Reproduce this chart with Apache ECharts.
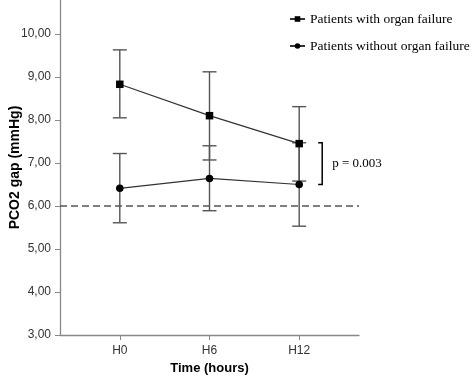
<!DOCTYPE html>
<html>
<head>
<meta charset="utf-8">
<script src="https://cdn.jsdelivr.net/npm/echarts@6/dist/echarts.min.js"></script>
<style>html,body{margin:0;padding:0;background:#fff}#chart{width:473px;height:382px}</style>
</head>
<body>
<div id="chart"></div>
<script>
const hours = [0, 6, 12];
const hourLabels = { 0: 'H0', 6: 'H6', 12: 'H12' };
const yTicks = [3, 4, 5, 6, 7, 8, 9, 10];

const withMean = [8.83, 8.10, 7.45];
const withLow = [8.05, 7.07, 6.58];
const withHigh = [9.63, 9.12, 8.31];

const withoutMean = [6.41, 6.64, 6.50];
const withoutLow = [5.61, 5.89, 5.53];
const withoutHigh = [7.22, 7.40, 7.47];

const threshold = 6;
const pText = 'p = 0.003';

const INK = '#333';
const BAR = '#555';
const AXIS = '#888';

function errorBars(lo, hi) {
  return hours.map((h, i) => [h, lo[i], hi[i]]);
}

function renderBar(params, api) {
  const x = api.value(0);
  const a = api.coord([x, api.value(1)]);
  const b = api.coord([x, api.value(2)]);
  const w = 7;
  const st = { stroke: BAR, lineWidth: 1.4 };
  return { type: 'group', children: [
    { type: 'line', shape: { x1: a[0], y1: a[1], x2: b[0], y2: b[1] }, style: st },
    { type: 'line', shape: { x1: a[0] - w, y1: a[1], x2: a[0] + w, y2: a[1] }, style: st },
    { type: 'line', shape: { x1: b[0] - w, y1: b[1], x2: b[0] + w, y2: b[1] }, style: st }
  ]};
}

function renderBracket(params, api) {
  const x = api.value(0);
  const t = api.coord([x, api.value(1)]);
  const b = api.coord([x, api.value(2)]);
  const x0 = t[0] + 19, x1 = t[0] + 23;
  return { type: 'group', children: [
    { type: 'polyline', shape: { points: [[x0, t[1] - 1], [x1, t[1] - 1], [x1, b[1]], [x0, b[1]]] },
      style: { stroke: '#000', lineWidth: 1.5, fill: null } },
    { type: 'text', x: x1 + 10, y: (t[1] + b[1]) / 2,
      style: { text: pText, fill: '#000', font: '13px "Liberation Serif", serif', verticalAlign: 'middle' } }
  ]};
}

const chart = echarts.init(document.getElementById('chart'));
chart.setOption({
  animation: false,
  textStyle: { fontFamily: '"Liberation Sans", Arial, sans-serif' },
  legend: {
    orient: 'vertical', left: 284, top: 7, itemGap: 13,
    itemWidth: 15, itemHeight: 7,
    textStyle: { fontFamily: '"Liberation Serif", serif', fontSize: 13.5, color: '#000' },
    data: ['Patients with organ failure', 'Patients without organ failure']
  },
  grid: { left: 60, right: 114, top: 0, bottom: 47, outerBoundsMode: 'none' },
  xAxis: {
    type: 'value', min: -4, max: 16,
    name: 'Time (hours)', nameLocation: 'middle', nameGap: 27, nameMoveOverlap: false,
    nameTextStyle: { fontWeight: 'bold', fontSize: 13, color: '#000' },
    axisLine: { onZero: false, lineStyle: { color: AXIS, width: 1.3 } },
    axisTick: { customValues: hours, length: 5, lineStyle: { color: AXIS } },
    axisLabel: { customValues: hours, formatter: v => hourLabels[v], color: INK, fontSize: 12, margin: 10 },
    splitLine: { show: false }
  },
  yAxis: {
    type: 'value', min: 3, max: 10.79,
    name: 'PCO2 gap (mmHg)', nameLocation: 'middle', nameGap: 38, nameMoveOverlap: false,
    nameTextStyle: { fontWeight: 'bold', fontSize: 14, color: '#000' },
    axisLine: { show: true, onZero: false, lineStyle: { color: AXIS, width: 1.3 } },
    axisTick: { show: true, customValues: yTicks, length: 5, lineStyle: { color: AXIS } },
    axisLabel: { customValues: yTicks, formatter: v => v.toFixed(2).replace('.', ','), color: INK, fontSize: 12, margin: 9 },
    splitLine: { show: false }
  },
  series: [
    { type: 'custom', renderItem: renderBar, data: errorBars(withLow, withHigh), z: 2, silent: true },
    { type: 'custom', renderItem: renderBar, data: errorBars(withoutLow, withoutHigh), z: 2, silent: true },
    {
      name: 'Patients with organ failure', type: 'line', z: 5,
      data: hours.map((h, i) => [h, withMean[i]]),
      symbol: 'rect', symbolSize: 7.5,
      lineStyle: { color: INK, width: 1.2 }, itemStyle: { color: '#000' },
      markLine: {
        silent: true, symbol: 'none', label: { show: false },
        lineStyle: { color: '#555', type: [7, 4], width: 1.5 },
        data: [{ yAxis: threshold }]
      }
    },
    {
      name: 'Patients without organ failure', type: 'line', z: 5,
      data: hours.map((h, i) => [h, withoutMean[i]]),
      symbol: 'circle', symbolSize: 7.5,
      lineStyle: { color: INK, width: 1.2 }, itemStyle: { color: '#000' }
    },
    { type: 'custom', renderItem: renderBracket, data: [[12, withMean[2], withoutMean[2]]], z: 3, silent: true }
  ]
});
</script>
</body>
</html>
